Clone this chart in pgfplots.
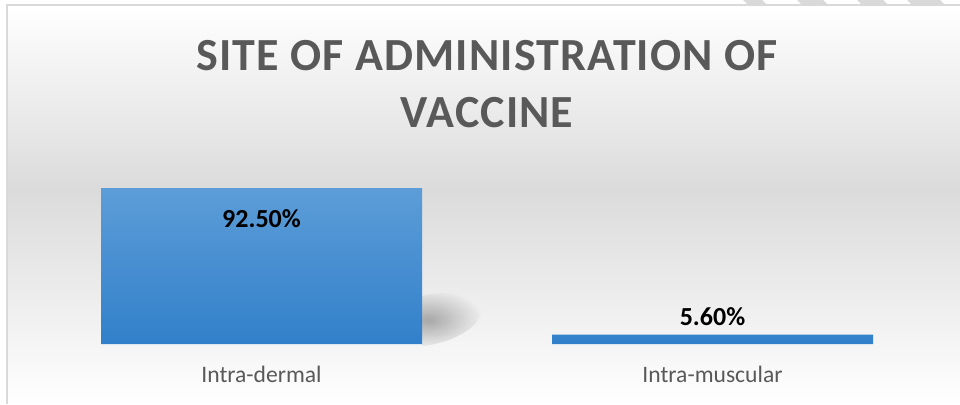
\documentclass[border=0pt]{standalone}
\usepackage{pgfplots}
\pgfplotsset{compat=1.18}
\usetikzlibrary{fadings}
\usepackage{fontspec}
\setmainfont{Carlito}
\definecolor{titlegray}{RGB}{89,89,89}
\definecolor{bartop}{RGB}{92,157,216}
\definecolor{barbot}{RGB}{50,128,202}
\definecolor{bggray}{RGB}{219,219,219}
\definecolor{framegray}{RGB}{217,217,217}
\tikzfading[name=softblob, inner color=transparent!0, outer color=transparent!100]
\begin{document}
\begin{tikzpicture}
\useasboundingbox (0pt,0pt) rectangle (960pt,404pt);
\fill[white] (0pt,0pt) rectangle (960pt,404pt);
% chart area background
\shade[top color=white, bottom color=bggray] (7pt,214pt) rectangle (960pt,399pt);
\shade[top color=bggray, bottom color=white] (7pt,0pt) rectangle (960pt,214.5pt);
% bits of the page watermark above the frame
\foreach \a/\b in {743/762,797/823,857/883,907/940}
  \fill[framegray] (\a pt,404pt) -- (\b pt,404pt) -- (\b pt+5pt,399pt) -- (\a pt+5pt,399pt) -- cycle;
\draw[framegray, line width=1.5pt] (7pt,0pt) -- (7pt,399pt) -- (960pt,399pt);
% soft shadow behind the tall bar
\begin{scope}
  \clip (422pt,58pt) rectangle (520pt,125pt);
  \fill[black, opacity=0.3, path fading=softblob, fit fading=true, rotate around={12:(428pt,84pt)}]
    (428pt,84pt) ellipse [x radius=54pt, y radius=25pt];
\end{scope}

\begin{axis}[
  at={(36pt,60pt)}, anchor=south west, scale only axis,
  width=902pt, height=168.6pt,
  xmin=-0.5, xmax=1.5, ymin=0, ymax=100,
  axis line style={draw=none},
  ytick=\empty, xtick={0,1},
  xticklabels={Intra-dermal,Intra-muscular},
  major tick length=0pt,
  xticklabel style={font=\fontsize{23.6}{28}\selectfont, text=titlegray, anchor=base, yshift=-38pt},
  ybar, bar width=321pt,
  title={SITE OF ADMINISTRATION OF\\VACCINE},
  title style={at={(0.5,1)}, anchor=south, yshift=41pt, inner sep=0pt, align=center,
    font=\fontsize{46}{57}\selectfont\bfseries\addfontfeature{LetterSpace=2.5}, text=titlegray},
  /pgf/number format/assume math mode=true,
  point meta=y,
  nodes near coords={\pgfmathprintnumber[fixed,fixed zerofill,precision=2]{\pgfplotspointmeta}\%},
  visualization depends on={\thisrow{dy} \as \labdy},
  every node near coord/.append style={anchor=base, yshift=\labdy pt,
    font=\fontsize{26}{30}\selectfont\bfseries, text=black},
  clip=false,
]
\addplot[draw=none, top color=bartop, bottom color=barbot] table {
x y dy
0 92.5 -39
1 5.6 8.7
};
\end{axis}
\end{tikzpicture}
\end{document}
